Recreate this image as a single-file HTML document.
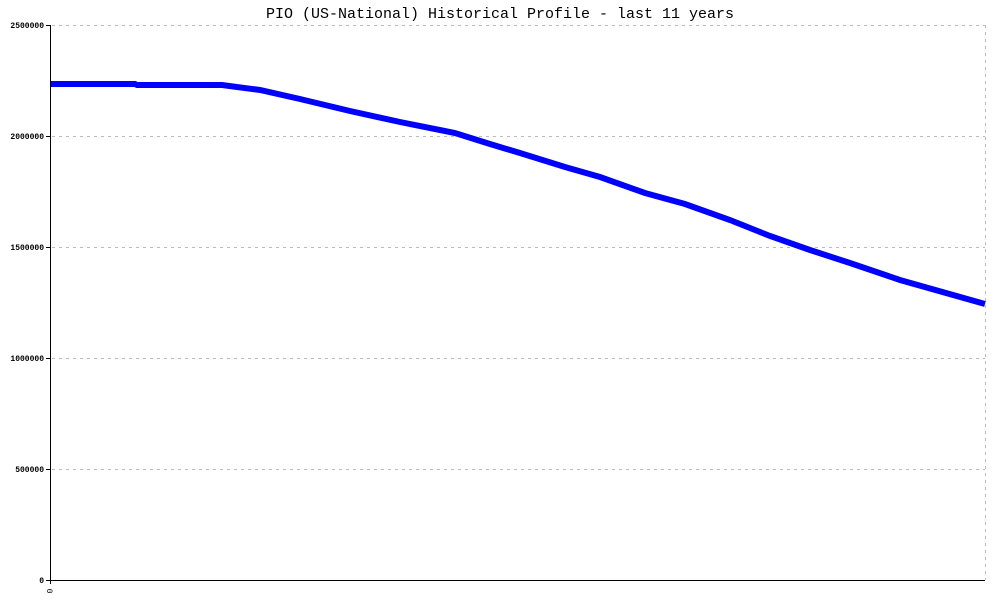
<!DOCTYPE html>
<html><head><meta charset="utf-8"><style>body{margin:0;background:#fff}svg{display:block}</style></head>
<body>
<svg width="1000" height="600" xmlns="http://www.w3.org/2000/svg" font-family="Liberation Mono, DejaVu Sans Mono, monospace">
<rect width="1000" height="600" fill="#fff"/>
<text x="500" y="18" text-anchor="middle" font-size="15">PIO (US-National) Historical Profile - last 11 years</text>
<g stroke="#bbb" stroke-dasharray="3,4" stroke-width="1">
<line x1="52" y1="25.5" x2="985" y2="25.5"/>
<line x1="52" y1="136.5" x2="985" y2="136.5"/>
<line x1="52" y1="247.5" x2="985" y2="247.5"/>
<line x1="52" y1="358.5" x2="985" y2="358.5"/>
<line x1="52" y1="469.5" x2="985" y2="469.5"/>
<line x1="985.5" y1="25" x2="985.5" y2="580"/>
</g>
<g stroke="#000" stroke-width="1">
<line x1="50.5" y1="25" x2="50.5" y2="584"/>
<line x1="46" y1="580.5" x2="985" y2="580.5"/>
<line x1="46" y1="25.5" x2="50" y2="25.5"/>
<line x1="46" y1="136.5" x2="50" y2="136.5"/>
<line x1="46" y1="247.5" x2="50" y2="247.5"/>
<line x1="46" y1="358.5" x2="50" y2="358.5"/>
<line x1="46" y1="469.5" x2="50" y2="469.5"/>
</g>
<g font-size="8" text-anchor="end" font-weight="bold">
<text x="44" y="28">2500000</text>
<text x="44" y="139">2000000</text>
<text x="44" y="250">1500000</text>
<text x="44" y="361">1000000</text>
<text x="44" y="472">500000</text>
<text x="44" y="583">0</text>
</g>
<text x="0" y="0" font-size="8" transform="translate(47,591) rotate(90)" text-anchor="middle">0</text>
<polyline fill="none" stroke="#0000ff" stroke-width="6" points="51,84 135,84 137,85 222,85 260,90 300,99 350,111 400,122 455,133 490,144 520,153 565,167 600,177 645,193 685,204 730,220 770,236 810,250 850,263 900,280 985,304"/>
</svg>
</body></html>
